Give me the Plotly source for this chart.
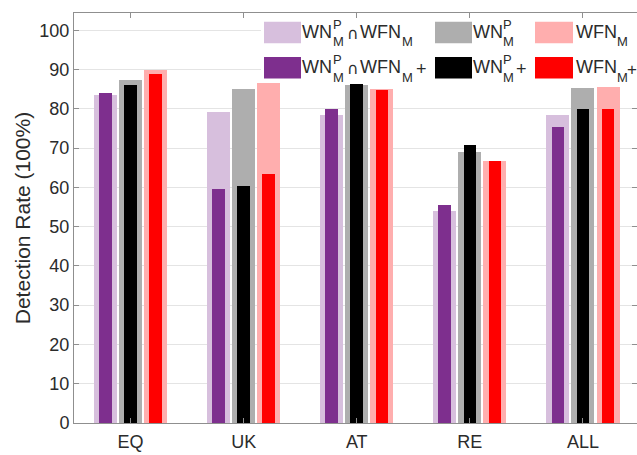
import plotly.graph_objects as go

# ---------------- data ----------------
categories = ["EQ", "UK", "AT", "RE", "ALL"]
wn_and_wfn = [83.4, 79.2, 78.5, 54.1, 78.4]        # WN^P_M ∩ WFN_M (light purple)
wn = [87.3, 85.0, 86.0, 69.1, 85.3]                # WN^P_M (gray)
wfn = [89.8, 86.7, 85.0, 66.8, 85.5]               # WFN_M (light red)
wn_and_wfn_plus = [84.1, 59.7, 80.0, 55.6, 75.3]   # WN^P_M ∩ WFN_M + (purple)
wn_plus = [86.0, 60.4, 86.3, 70.7, 80.0]           # WN^P_M + (black)
wfn_plus = [88.8, 63.3, 84.8, 66.7, 80.0]          # WFN_M + (red)
yticks = [0, 10, 20, 30, 40, 50, 60, 70, 80, 90, 100]

# ---------------- styles ----------------
W, H = 637, 455
ML, MR, MT, MB = 74, 0, 13, 32
PW, PH = W - ML - MR, H - MT - MB
XMAX = 0.5 + PW / 113.1
FONT = "Liberation Sans, Arial, Helvetica, sans-serif"
TXT = "#2b2b2b"

C_LPURPLE = "rgb(215,191,221)"
C_GRAY = "rgb(174,174,174)"
C_LRED = "rgb(255,174,174)"
C_PURPLE = "rgb(126,47,142)"
C_BLACK = "rgb(0,0,0)"
C_RED = "rgb(255,0,0)"

wide_w, narrow_w, step = 0.204, 0.111, 0.222
xs = list(range(1, len(categories) + 1))

series = [
    (wn_and_wfn, C_LPURPLE, -step, wide_w),
    (wn, C_GRAY, 0.0, wide_w),
    (wfn, C_LRED, step, wide_w),
    (wn_and_wfn_plus, C_PURPLE, -step, narrow_w),
    (wn_plus, C_BLACK, 0.0, narrow_w),
    (wfn_plus, C_RED, step, narrow_w),
]

fig = go.Figure()
for vals, col, off, wd in series:
    fig.add_trace(go.Bar(
        x=xs, y=vals, width=wd, offset=off - wd / 2,
        marker=dict(color=col, line=dict(width=0)),
        showlegend=False,
    ))

# ---------------- custom legend ----------------
def px_x(p):
    return (p - ML) / PW

def px_y(p):
    return (MT + PH - p) / PH

shapes = [dict(type="rect", xref="paper", yref="paper",
               x0=px_x(261), x1=px_x(640), y0=px_y(82), y1=px_y(18),
               fillcolor="white", line=dict(width=0), layer="above")]

swatch_cols = [(264, 301), (435, 472), (535, 573)]
row_dy = [0, 35.3]
swatch_colors = [[C_LPURPLE, C_GRAY, C_LRED], [C_PURPLE, C_BLACK, C_RED]]
for r in range(2):
    for c in range(3):
        x0, x1 = swatch_cols[c]
        shapes.append(dict(type="rect", xref="paper", yref="paper",
                           x0=px_x(x0), x1=px_x(x1),
                           y0=px_y(43.3 + row_dy[r]), y1=px_y(21.7 + row_dy[r]),
                           fillcolor=swatch_colors[r][c], line=dict(width=0),
                           layer="above"))

# label pieces: (text, center x px, center y px (row 1), size, family)
BIG, SMALL = 18, 13
DJ = "DejaVu Sans, sans-serif"
pieces_common = [
    ("WN", 317.0, 31.7, BIG, FONT), ("P", 337.0, 24.2, SMALL, FONT),
    ("M", 338.5, 41.7, SMALL, FONT), ("∩", 352.8, 33.0, 16, DJ),
    ("WFN", 380.5, 31.7, BIG, FONT), ("M", 407.5, 41.7, SMALL, FONT),
    ("WN", 487.5, 31.7, BIG, FONT), ("P", 507.0, 24.2, SMALL, FONT),
    ("M", 508.5, 41.7, SMALL, FONT),
    ("WFN", 596.5, 31.7, BIG, FONT), ("M", 622.5, 41.7, SMALL, FONT),
]
pieces_plus = [("+", 421.5, 33.7, BIG, FONT), ("+", 521.5, 33.7, BIG, FONT),
               ("+", 632.0, 33.7, 17, FONT)]

annotations = []
for r in range(2):
    items = pieces_common + (pieces_plus if r == 1 else [])
    for txt, cx, cy, sz, fam in items:
        annotations.append(dict(
            text=txt, xref="paper", yref="paper",
            x=px_x(cx), y=px_y(cy + row_dy[r]),
            xanchor="center", yanchor="middle", showarrow=False,
            font=dict(family=fam, size=sz, color=TXT),
        ))

fig.update_layout(
    width=W, height=H,
    margin=dict(l=ML, r=MR, t=MT, b=MB, autoexpand=False),
    paper_bgcolor="white", plot_bgcolor="white",
    barmode="overlay",
    bargap=0,
    font=dict(family=FONT, size=18, color=TXT),
    shapes=shapes, annotations=annotations,
    xaxis=dict(
        range=[0.5, XMAX], tickmode="array", tickvals=xs, ticktext=categories,
        showgrid=False, zeroline=False,
        showline=True, linecolor="#8f8f8f", linewidth=1, mirror="allticks",
        ticks="inside", ticklen=5, tickcolor="#8f8f8f",
        tickfont=dict(size=18, color=TXT), ticklabelstandoff=2,
    ),
    yaxis=dict(
        range=[0, 104.4], tickmode="array", tickvals=yticks,
        showgrid=True, gridcolor="#e4e4e4", gridwidth=1, zeroline=False,
        showline=True, linecolor="#8f8f8f", linewidth=1, mirror="allticks",
        ticks="inside", ticklen=5, tickcolor="#8f8f8f",
        tickfont=dict(size=18, color=TXT),
        title=dict(text="Detection Rate (100%)", standoff=3,
                   font=dict(size=21, color=TXT)),
    ),
)

fig.write_html("out.html")
